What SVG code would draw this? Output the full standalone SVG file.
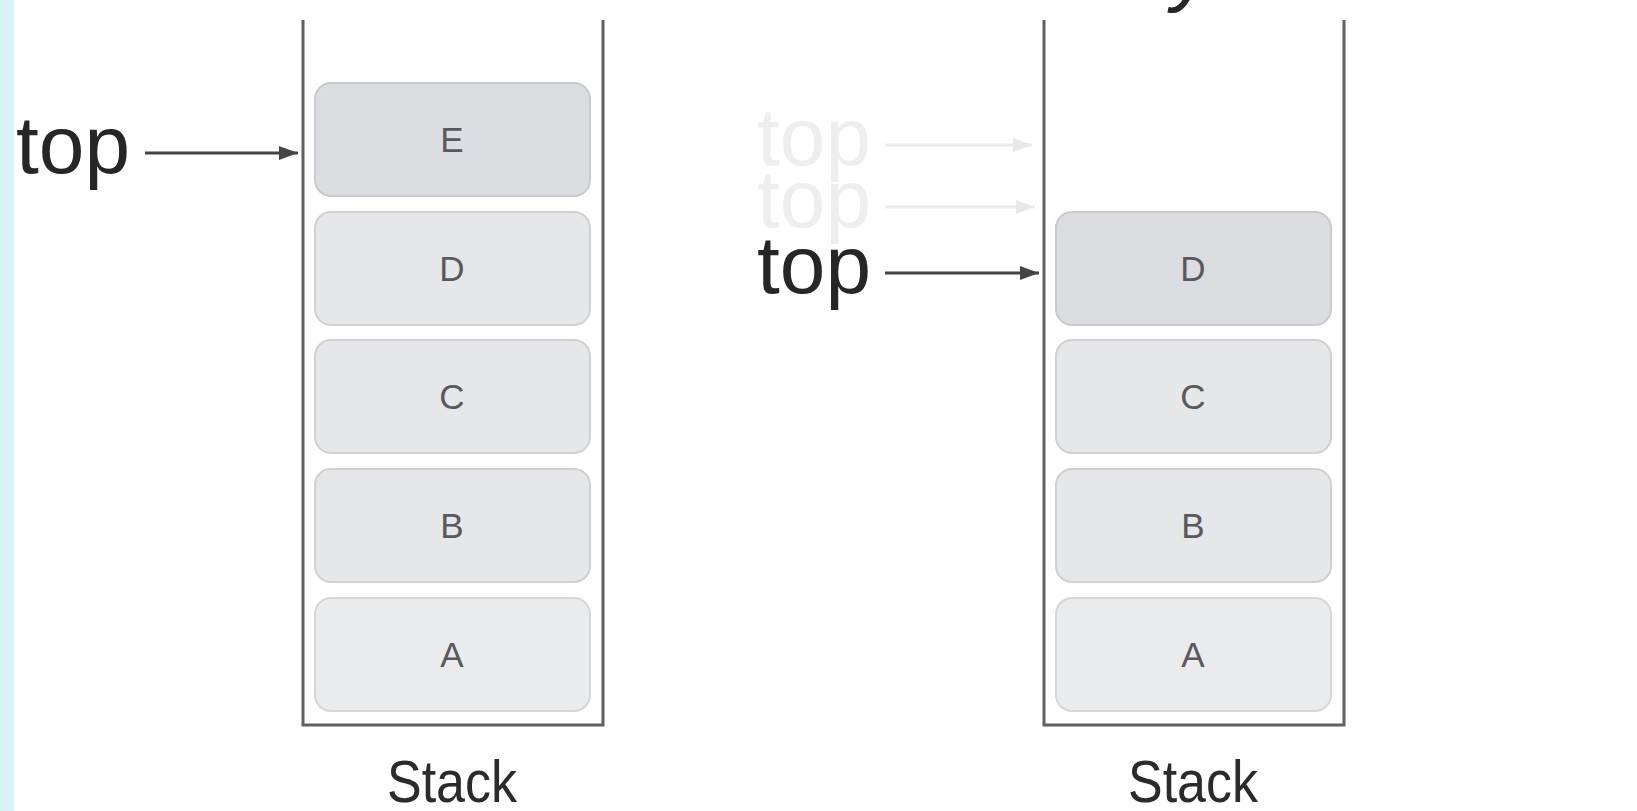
<svg xmlns="http://www.w3.org/2000/svg" width="1637" height="811" viewBox="0 0 1637 811">
  <style>
    .wall { fill: none; stroke: #5f6063; stroke-width: 3; }
    .cell { fill: #e6e7e9; stroke: #d0d1d4; stroke-width: 2; }
    .cell-top { fill: #dcdde0; stroke: #c9cacd; stroke-width: 2; }
    .cell-low { fill: #eaebed; stroke: #d6d7da; stroke-width: 2; }
    .letter { font-family: "Liberation Sans", Arial, sans-serif; font-size: 35px; fill: #58595c; text-anchor: middle; }
    .ptr { font-family: "Liberation Sans", Arial, sans-serif; font-size: 82px; fill: #262626; }
    .ptr-ghost { font-family: "Liberation Sans", Arial, sans-serif; font-size: 82px; fill: #eeeeee; }
    .caption { font-family: "Liberation Sans", Arial, sans-serif; font-size: 60px; fill: #2b2b2b; text-anchor: middle; }
    .link { stroke: #454545; stroke-width: 3; fill: none; marker-end: url(#head); }
    .link-ghost { stroke: #ebebeb; stroke-width: 3; fill: none; marker-end: url(#head-ghost); }
  </style>
  <defs>
    <marker id="head" markerUnits="userSpaceOnUse" markerWidth="20" markerHeight="16" refX="19" refY="7" orient="auto">
      <path d="M0,0 L19,7 L0,14 z" fill="#454545"/>
    </marker>
    <marker id="head-ghost" markerUnits="userSpaceOnUse" markerWidth="20" markerHeight="16" refX="19" refY="7" orient="auto">
      <path d="M0,0 L19,7 L0,14 z" fill="#e8e8e8"/>
    </marker>
  </defs>

  <rect x="0" y="0" width="1637" height="811" fill="#ffffff"/>
  <!-- side strip -->
  <rect x="0" y="0" width="14" height="811" fill="#dbf3f8"/>

  <!-- cut-off heading glyph at the top edge -->
  <text x="1172" y="-4" class="ptr" font-style="italic">y</text>

  <!-- left stack: after push -->
  <g id="stack-left">
    <path class="wall" d="M303,20 V725 H603 V20"/>
    <g id="left-E">
      <rect class="cell-top" x="315" y="83" width="275" height="113" rx="16"/>
      <text class="letter" x="452" y="152">E</text>
    </g>
    <g id="left-D">
      <rect class="cell" x="315" y="212" width="275" height="113" rx="16"/>
      <text class="letter" x="452" y="281">D</text>
    </g>
    <g id="left-C">
      <rect class="cell" x="315" y="340" width="275" height="113" rx="16"/>
      <text class="letter" x="452" y="409">C</text>
    </g>
    <g id="left-B">
      <rect class="cell" x="315" y="469" width="275" height="113" rx="16"/>
      <text class="letter" x="452" y="538">B</text>
    </g>
    <g id="left-A">
      <rect class="cell-low" x="315" y="598" width="275" height="113" rx="16"/>
      <text class="letter" x="452" y="667">A</text>
    </g>
    <text id="left-caption" class="caption" x="452" y="802" textLength="130" lengthAdjust="spacingAndGlyphs">Stack</text>
  </g>

  <!-- right stack: after pop -->
  <g id="stack-right">
    <path class="wall" d="M1044,20 V725 H1344 V20"/>
    <g id="right-D">
      <rect class="cell-top" x="1056" y="212" width="275" height="113" rx="16"/>
      <text class="letter" x="1193" y="281">D</text>
    </g>
    <g id="right-C">
      <rect class="cell" x="1056" y="340" width="275" height="113" rx="16"/>
      <text class="letter" x="1193" y="409">C</text>
    </g>
    <g id="right-B">
      <rect class="cell" x="1056" y="469" width="275" height="113" rx="16"/>
      <text class="letter" x="1193" y="538">B</text>
    </g>
    <g id="right-A">
      <rect class="cell-low" x="1056" y="598" width="275" height="113" rx="16"/>
      <text class="letter" x="1193" y="667">A</text>
    </g>
    <text id="right-caption" class="caption" x="1193" y="802" textLength="130" lengthAdjust="spacingAndGlyphs">Stack</text>
  </g>

  <!-- pointer labels -->
  <g id="ptr-left"><text class="ptr" x="16" y="173">top</text></g>
  <g id="ptr-right-old1"><text class="ptr-ghost" x="757" y="165">top</text></g>
  <g id="ptr-right-old2"><text class="ptr-ghost" x="757" y="227">top</text></g>
  <g id="ptr-right"><text class="ptr" x="757" y="293">top</text></g>

  <!-- connectors -->
  <g id="connectors">
    <line class="link" x1="145" y1="153" x2="298" y2="153"/>
    <line class="link-ghost" x1="885" y1="145" x2="1032" y2="145"/>
    <line class="link-ghost" x1="885" y1="207" x2="1035" y2="207"/>
    <line class="link" x1="885" y1="273" x2="1039" y2="273"/>
  </g>
</svg>
